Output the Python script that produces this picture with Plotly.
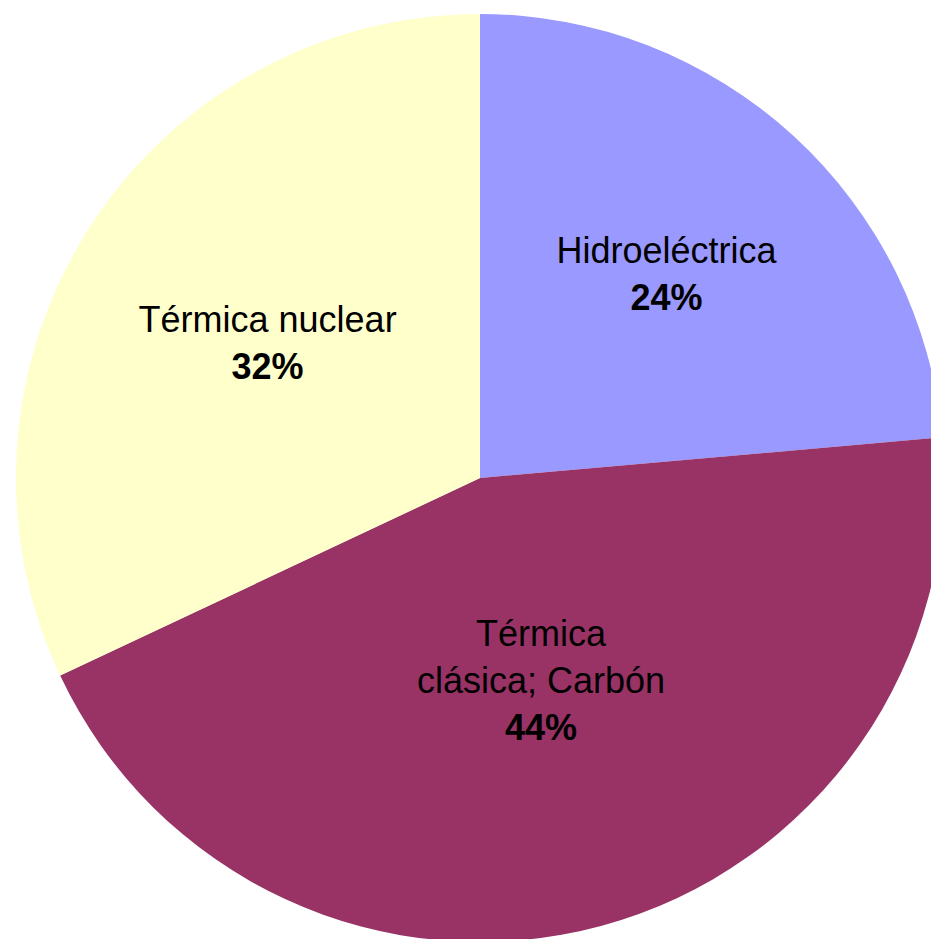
import plotly.graph_objects as go

labels = ["Hidroeléctrica", "Térmica<br>clásica; Carbón", "Térmica nuclear"]
values = [23.6, 44.4, 32.0]
colors = ["#9999FF", "#993366", "#FFFFCC"]

templates = [
    "%{label}<br><b>%{percent:.0%}</b>",
    "%{label}<br><b>%{percent:.0%}</b><br>\u00a0",
    "%{label}<br><b>%{percent:.0%}</b>",
]

fig = go.Figure(go.Pie(
    labels=labels,
    values=values,
    sort=False,
    direction="clockwise",
    rotation=0,
    marker=dict(colors=colors, line=dict(width=0)),
    texttemplate=templates,
    textposition="inside",
    insidetextorientation="horizontal",
    textfont=dict(family="Liberation Sans, Arial, sans-serif", size=36, color="#000000"),
    hoverinfo="skip",
    showlegend=False,
))

fig.update_layout(
    width=960, height=956,
    margin=dict(l=16, r=16, t=14, b=14),
    paper_bgcolor="white",
    plot_bgcolor="white",
)

fig.write_html(
    "out.html",
    config={"displayModeBar": False},
    post_script="document.body.style.margin='0';document.body.style.overflow='hidden';document.documentElement.style.overflow='hidden';",
)
